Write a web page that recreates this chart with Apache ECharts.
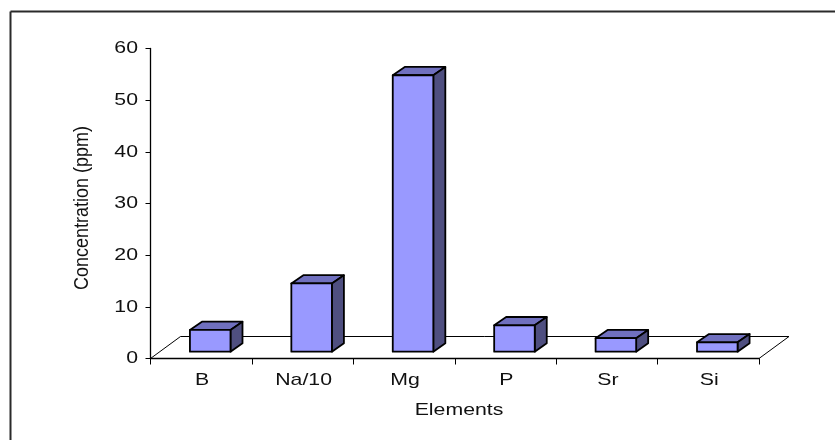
<!DOCTYPE html>
<html>
<head>
<meta charset="utf-8">
<style>html,body{margin:0;padding:0;background:#fff}#c{width:835px;height:440px}</style>
<script src="https://cdn.jsdelivr.net/npm/echarts@6/dist/echarts.min.js"></script>
</head>
<body>
<div id="c"></div>
<script>
var categories = ['B', 'Na/10', 'Mg', 'P', 'Sr', 'Si'];
var concentration = [4.2, 13.2, 53.5, 5.1, 2.6, 1.8];
var yTickValues = [0, 10, 20, 30, 40, 50, 60];
var floorDepth = [30, -22];
var barDepth = [12, -8.3];
var barWidthRatio = 0.4;
var textStretch = 1.25;
var font = '"Liberation Sans", Arial, sans-serif';
var inkColor = '#111';

var chart = echarts.init(document.getElementById('c'), null, {renderer: 'canvas'});

function poly(points, fill) {
  return {type: 'polygon', shape: {points: points},
    style: {fill: fill, stroke: '#000', lineWidth: 1.8, lineJoin: 'round'}};
}

function stretchedText(text, x, y, align) {
  return {
    type: 'text', x: x, y: y, scaleX: textStretch, scaleY: 1,
    style: {text: text, fontSize: 17, fontFamily: font, fill: inkColor, align: align, verticalAlign: 'middle'}
  };
}

chart.setOption({
  animation: false,
  backgroundColor: '#fff',
  textStyle: {fontFamily: font},
  grid: {left: 150.5, right: 76, top: 48.5, bottom: 81.5, containLabel: false},
  xAxis: {
    type: 'category', data: categories, boundaryGap: true,
    axisLine: {lineStyle: {color: '#000', width: 1.3}},
    axisTick: {show: true, alignWithLabel: false, length: 6, lineStyle: {color: '#000'}},
    axisLabel: {show: false},
    splitLine: {show: false}
  },
  yAxis: {
    type: 'value', min: yTickValues[0], max: yTickValues[yTickValues.length - 1], interval: 10,
    axisLine: {show: true, lineStyle: {color: '#000', width: 1.3}},
    axisTick: {show: true, length: 5, lineStyle: {color: '#000'}},
    axisLabel: {show: false},
    splitLine: {show: false}
  },
  graphic: [
    {type: 'line', z: 100, shape: {x1: 10.5, y1: 11.5, x2: 835, y2: 11.5}, style: {stroke: '#2a2a2a', lineWidth: 2}},
    {type: 'line', z: 100, shape: {x1: 10.5, y1: 11.5, x2: 10.5, y2: 440}, style: {stroke: '#2a2a2a', lineWidth: 2}},
    {type: 'text', z: 100, x: 459, y: 410, scaleX: 1.29, scaleY: 1,
     style: {text: 'Elements', fontSize: 16.5, fontFamily: font, fill: inkColor, align: 'center', verticalAlign: 'middle'}},
    {type: 'text', z: 100, x: 82, y: 208, rotation: Math.PI / 2, scaleX: 0.9, scaleY: 1,
     style: {text: 'Concentration (ppm)', fontSize: 20, fontFamily: font, fill: inkColor, align: 'center', verticalAlign: 'middle'}}
  ],
  series: [
    {
      type: 'custom', z: 1, silent: true, coordinateSystem: 'cartesian2d',
      data: [[0, 0]], encode: {x: 0, y: 1},
      renderItem: function (params, api) {
        var origin = api.coord([0, 0]);
        var band = api.size([1, 0])[0];
        var x0 = origin[0] - band / 2;
        var x1 = x0 + band * categories.length;
        var y0 = origin[1];
        return {
          type: 'polyline',
          shape: {points: [[x0, y0], [x0 + floorDepth[0], y0 + floorDepth[1]],
            [x1 + floorDepth[0], y0 + floorDepth[1]], [x1, y0]]},
          style: {fill: null, stroke: '#000', lineWidth: 1}
        };
      }
    },
    {
      type: 'custom', z: 2, silent: true, coordinateSystem: 'cartesian2d',
      data: concentration.map(function (v, i) { return [i, v]; }),
      encode: {x: 0, y: 1},
      renderItem: function (params, api) {
        var base = api.coord([api.value(0), 0]);
        var top = api.coord([api.value(0), api.value(1)]);
        var band = api.size([1, 0])[0];
        var w = band * barWidthRatio;
        var ox = (floorDepth[0] - barDepth[0]) / 2;
        var oy = (floorDepth[1] - barDepth[1]) / 2;
        var l = base[0] - w / 2 + ox, r = l + w;
        var b = base[1] + oy, t = top[1] + oy;
        var dx = barDepth[0], dy = barDepth[1];
        return {
          type: 'group',
          children: [
            poly([[l, t], [r, t], [r + dx, t + dy], [l + dx, t + dy]], '#7070BF'),
            poly([[r, t], [r + dx, t + dy], [r + dx, b + dy], [r, b]], '#4F4F80'),
            poly([[l, t], [r, t], [r, b], [l, b]], '#9999FF')
          ]
        };
      }
    },
    {
      type: 'custom', z: 3, silent: true, coordinateSystem: 'cartesian2d',
      data: categories.map(function (c, i) { return [i, 0]; }),
      encode: {x: 0, y: 1}, clip: false,
      renderItem: function (params, api) {
        var p = api.coord([api.value(0), 0]);
        return stretchedText(categories[params.dataIndex], p[0] + 1, p[1] + 22, 'center');
      }
    },
    {
      type: 'custom', z: 3, silent: true, coordinateSystem: 'cartesian2d',
      data: yTickValues.map(function (v) { return [0, v]; }),
      encode: {x: 0, y: 1}, clip: false,
      renderItem: function (params, api) {
        var p = api.coord([0, api.value(1)]);
        var band = api.size([1, 0])[0];
        return stretchedText(String(api.value(1)), p[0] - band / 2 - 12.5, p[1], 'right');
      }
    }
  ]
});
</script>
</body>
</html>
